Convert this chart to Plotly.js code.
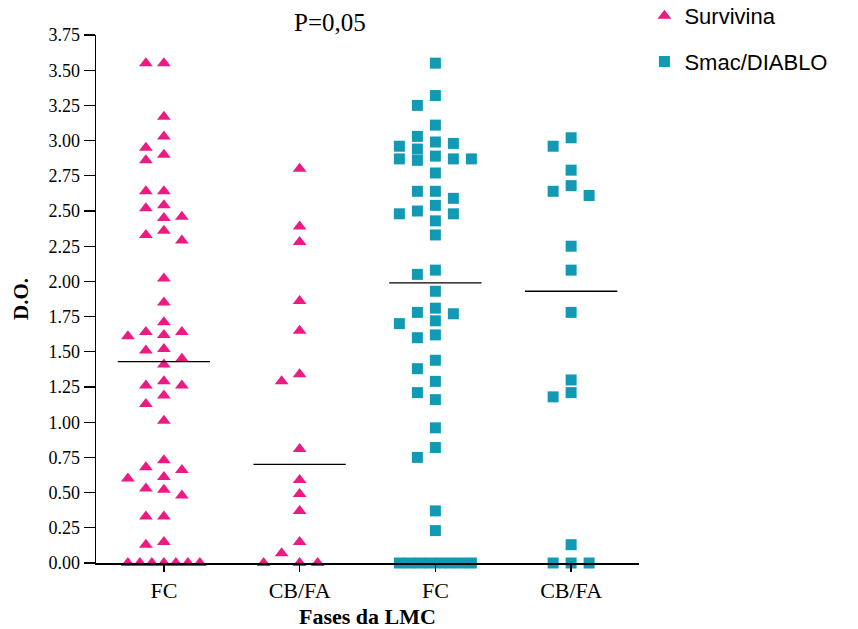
<!DOCTYPE html>
<html>
<head>
<meta charset="utf-8">
<script src="https://cdn.plot.ly/plotly-3.0.1.min.js"></script>
<style>html,body{margin:0;padding:0;background:#fff;}#chart{width:858px;height:629px;}</style>
</head>
<body>
<div id="chart"></div>
<script>
// ---- data ----
const groupLabels = ['FC', 'CB/FA', 'FC', 'CB/FA'];
const seriesNames = ['Survivina', 'Smac/DIABLO'];
const survivinaFC = [3.55, 3.55, 3.17, 3.03, 2.95, 2.90, 2.86, 2.64, 2.64, 2.54, 2.52, 2.46, 2.45, 2.36, 2.33, 2.29,
  2.02, 1.85, 1.71, 1.64, 1.64, 1.62, 1.61, 1.52, 1.51, 1.45, 1.41, 1.29, 1.26, 1.26, 1.19, 1.13, 1.01,
  0.73, 0.68, 0.66, 0.61, 0.60, 0.53, 0.52, 0.48, 0.33, 0.33, 0.15, 0.13, 0, 0, 0, 0, 0, 0, 0];
const survivinaCBFA = [2.80, 2.39, 2.28, 1.86, 1.65, 1.34, 1.29, 0.81, 0.59, 0.49, 0.37, 0.15, 0.07, 0, 0, 0];
const smacFC = [3.55, 3.32, 3.25, 3.11, 3.03, 2.99, 2.98, 2.96, 2.94, 2.89, 2.87, 2.87, 2.87, 2.86, 2.77, 2.64, 2.64,
  2.59, 2.54, 2.50, 2.48, 2.48, 2.43, 2.33, 2.08, 2.05, 1.93, 1.81, 1.78, 1.77, 1.72, 1.70, 1.62, 1.60,
  1.44, 1.38, 1.29, 1.21, 1.16, 0.96, 0.82, 0.75, 0.37, 0.23, 0, 0, 0, 0, 0, 0, 0, 0];
const smacCBFA = [3.02, 2.96, 2.79, 2.68, 2.64, 2.61, 2.25, 2.08, 1.78, 1.30, 1.21, 1.18, 0.13, 0, 0, 0];
const yTickVals = [0, 0.25, 0.5, 0.75, 1, 1.25, 1.5, 1.75, 2, 2.25, 2.5, 2.75, 3, 3.25, 3.5, 3.75];

// ---- layout geometry ----
const W = 858, H = 629;
const M = {l: 96, r: 219, t: 35, b: 66, autoexpand: false};
const plotW = W - M.l - M.r, plotH = H - M.t - M.b;
const xRange = [0.5, 4.5], yRange = [0, 3.75];
const pxX = plotW / (xRange[1] - xRange[0]);
const pxY = plotH / (yRange[1] - yRange[0]);

// simple deterministic beeswarm (column offsets computed from the values), limited to +/-2 columns
function swarm(vals, center) {
  const step = 18, thr = 12.5, maxK = 2;
  const sorted = vals.slice().sort((a, b) => b - a);
  const counts = {}, seen = {};
  sorted.forEach(v => counts[v] = (counts[v] || 0) + 1);
  const placed = [], xs = [], ys = [];
  const cands = [0, -1, 1, -2, 2];
  sorted.forEach(v => {
    let k = null;
    if (counts[v] > 5) {
      const i = seen[v] || 0; seen[v] = i + 1;
      k = -maxK + 2 * maxK * i / (counts[v] - 1);
    } else {
      let best = 0, bestD = -1;
      for (const cand of cands) {
        const same = placed.filter(p => Math.abs(p.k - cand) < 0.99);
        const d = same.length ? Math.min(...same.map(p => Math.abs(p.v - v) * pxY)) : 1e9;
        if (d >= thr) { k = cand; break; }
        if (d > bestD) { bestD = d; best = cand; }
      }
      if (k === null) k = best;
    }
    placed.push({v, k});
    xs.push(center + k * step / pxX);
    ys.push(v);
  });
  return {xs, ys};
}
function median(a) {
  const s = a.slice().sort((x, y) => x - y), n = s.length;
  return n % 2 ? s[(n - 1) / 2] : (s[n / 2 - 1] + s[n / 2]) / 2;
}

const sets = [survivinaFC, survivinaCBFA, smacFC, smacCBFA];
const sw = sets.map((v, i) => swarm(v, i + 1));

const pink = '#EE1A84', teal = '#1299B4';
const traces = [
  {
    type: 'scatter', mode: 'markers', name: seriesNames[0], legendgroup: 'a',
    x: sw[0].xs.concat(sw[1].xs), y: sw[0].ys.concat(sw[1].ys),
    marker: {symbol: 'triangle-up', size: 12, color: pink}, cliponaxis: false
  },
  {
    type: 'scatter', mode: 'markers', name: seriesNames[1], legendgroup: 'b',
    x: sw[2].xs.concat(sw[3].xs), y: sw[2].ys.concat(sw[3].ys),
    marker: {symbol: 'square', size: 11, color: teal}, cliponaxis: false
  }
];
const mx = [], my = [];
sets.forEach((v, i) => {
  const m = median(v);
  mx.push(i + 1 - 0.34, i + 1 + 0.34, null);
  my.push(m, m, null);
});
traces.push({type: 'scatter', mode: 'lines', x: mx, y: my, showlegend: false,
  line: {color: '#000', width: 1.3}, hoverinfo: 'skip'});

const serif = 'Liberation Serif, Times New Roman, serif';
const layout = {
  width: W, height: H,
  margin: M,
  paper_bgcolor: '#fff', plot_bgcolor: '#fff',
  showlegend: true,
  title: {text: 'P=0,05', font: {family: serif, size: 25, color: '#000'},
    x: (330 - M.l) / plotW, xref: 'paper', xanchor: 'center',
    y: 1 - 22 / H, yref: 'container', yanchor: 'middle'},
  xaxis: {
    range: xRange, tickmode: 'array', tickvals: [1, 2, 3, 4], ticktext: groupLabels,
    showline: true, linecolor: '#000', linewidth: 1.5, ticks: 'outside', ticklen: 7, tickwidth: 1.5, tickcolor: '#000',
    showgrid: false, zeroline: false,
    tickfont: {family: serif, size: 22, color: '#000'},
    title: {text: '<b>Fases da LMC</b>', font: {family: serif, size: 22, color: '#000'}, standoff: 8}
  },
  yaxis: {
    range: yRange, tickmode: 'array', tickvals: yTickVals, tickformat: '.2f',
    showline: true, linecolor: '#000', linewidth: 1.5, ticks: 'outside', ticklen: 11, tickwidth: 1.3, tickcolor: '#000',
    showgrid: false, zeroline: false,
    tickfont: {family: serif, size: 18, color: '#000'},
    title: {text: '<b>D.O.</b>', font: {family: serif, size: 21, color: '#000'}, standoff: 14}
  },
  legend: {
    x: 1.01, xanchor: 'left', y: 1 + 40 / plotH, yanchor: 'top',
    traceorder: 'grouped', tracegroupgap: 14,
    font: {family: 'Liberation Sans, Arial, sans-serif', size: 22, color: '#000'},
    bgcolor: 'rgba(0,0,0,0)'
  }
};
Plotly.newPlot('chart', traces, layout, {displayModeBar: false, staticPlot: true});
</script>
</body>
</html>
